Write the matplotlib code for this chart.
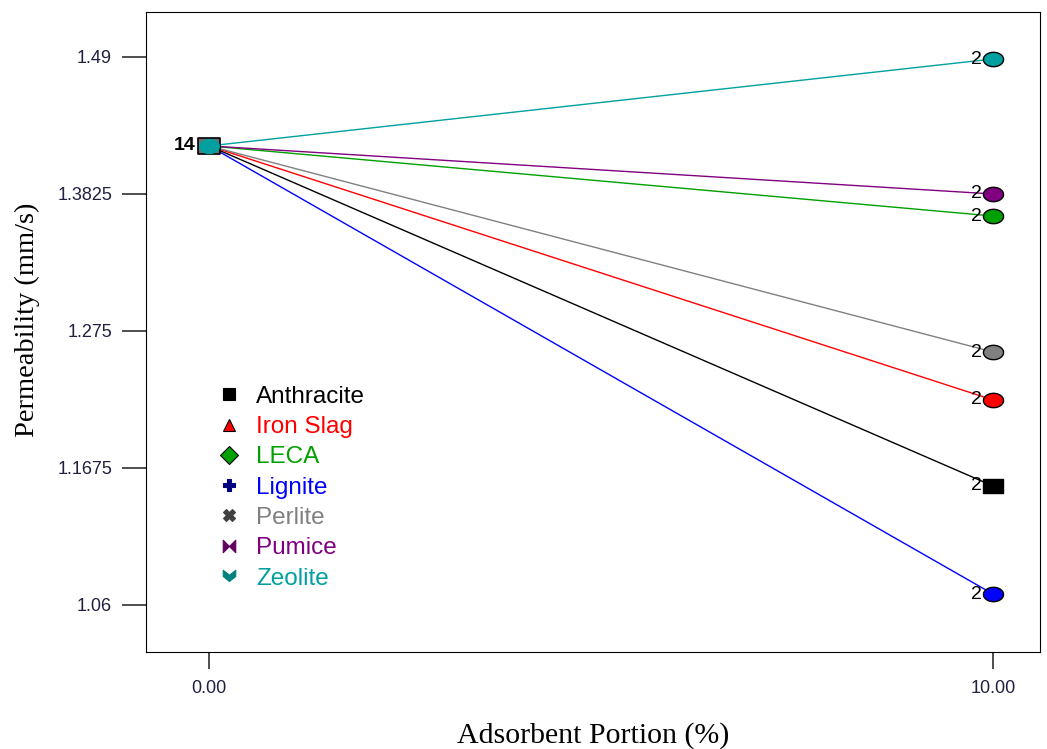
import matplotlib.pyplot as plt
import numpy as np
from matplotlib.path import Path
from matplotlib.lines import Line2D

plt.rcParams['font.family'] = ['Liberation Sans', 'DejaVu Sans']

# data
portions = [0.0, 10.0]
materials = ['Anthracite', 'Iron Slag', 'LECA', 'Lignite', 'Perlite', 'Pumice', 'Zeolite']
start_value = 1.4202
end_values = [1.1534, 1.2209, 1.3652, 1.0686, 1.2585, 1.3825, 1.4884]
colors = ['#000000', '#ff0000', '#00a000', '#0000ff', '#808080', '#800080', '#00a0a0']
legend_colors = ['#000000', '#ff0000', '#00a000', '#000080', '#404040', '#600060', '#008080']
yticks = [1.06, 1.1675, 1.275, 1.3825, 1.49]
ytick_labels = ['1.06', '1.1675', '1.275', '1.3825', '1.49']
xticks = [0.0, 10.0]
xtick_labels = ['0.00', '10.00']
start_count = '14'
end_count = '2'

# marker shapes
t = np.linspace(0, 2 * np.pi, 40)
ellipse = Path(np.column_stack([1.4 * np.cos(t), np.sin(t)]), closed=True)
rect = Path([(-1.45, -1), (1.45, -1), (1.45, 1), (-1.45, 1), (-1.45, -1)], closed=True)
bowtie = Path([(-1, -1), (-1, 1), (0, 0), (1, 1), (1, -1), (0, 0), (-1, -1)], closed=True)
chevron = Path([(-1, 1), (0, 0.2), (1, 1), (1, 0), (0, -0.8), (-1, 0), (-1, 1)], closed=True)
legend_markers = ['s', '^', 'D', 'P', 'X', bowtie, chevron]

fig = plt.figure(figsize=(10.47, 7.49), dpi=100)
ax = fig.add_axes([0.1395, 0.1295, 0.8538, 0.8545])

for name, end, c in zip(materials, end_values, colors):
    ax.plot(portions, [start_value, end], color=c, lw=1, zorder=2)

for name, end, c in zip(materials, end_values, colors):
    if name == 'Anthracite':
        ax.plot(portions[1], end, marker=rect, ms=15, color='black', zorder=4)
    else:
        ax.plot(portions[1], end, marker=ellipse, ms=14.5, mfc=c, mec='black', mew=1, zorder=4)
    ax.text(portions[1] - 0.14, end, end_count, ha='right', va='center', fontsize=14, zorder=5)

ax.plot(portions[0], start_value, marker=rect, ms=16, mfc='#707070', mec='black', mew=1.2, zorder=5)
ax.plot(portions[0], start_value, marker=ellipse, ms=14, mfc=colors[-1], mec=colors[-1], zorder=6)
ax.text(portions[0] - 0.18, start_value, start_count, ha='right', va='center',
        fontsize=14, fontweight='bold', zorder=6)

ax.set_xlim(-0.805, 10.6)
ax.set_ylim(1.0231, 1.5253)
ax.set_xticks(xticks)
ax.set_xticklabels(xtick_labels)
ax.set_yticks(yticks)
ax.set_yticklabels(ytick_labels)
ax.tick_params(labelsize=13, direction='out', width=1.2, colors='#303030', labelcolor='#202040')
ax.tick_params(axis='y', length=17.5, pad=7)
ax.tick_params(axis='x', length=12, pad=8)

ax.set_xlabel('Adsorbent Portion (%)', family='Liberation Serif', fontsize=21.5, labelpad=18)
ax.set_ylabel('Permeability (mm/s)', family='Liberation Serif', fontsize=20.5)
ax.yaxis.set_label_coords(-0.119, 0.519)

handles = []
for m, lc in zip(legend_markers, legend_colors):
    handles.append(Line2D([], [], ls='none', marker=m, ms=9, mfc=lc,
                          mec='black' if m in ('^', 'D') else lc, mew=0.8))
leg = ax.legend(handles, materials, loc='upper left', bbox_to_anchor=(0.0684, 0.431),
                frameon=False, fontsize=17.5, handlelength=1.0, handletextpad=0.61,
                labelspacing=0.34, borderpad=0.4, borderaxespad=0, labelcolor=colors)

plt.savefig('out.png', dpi=100)
